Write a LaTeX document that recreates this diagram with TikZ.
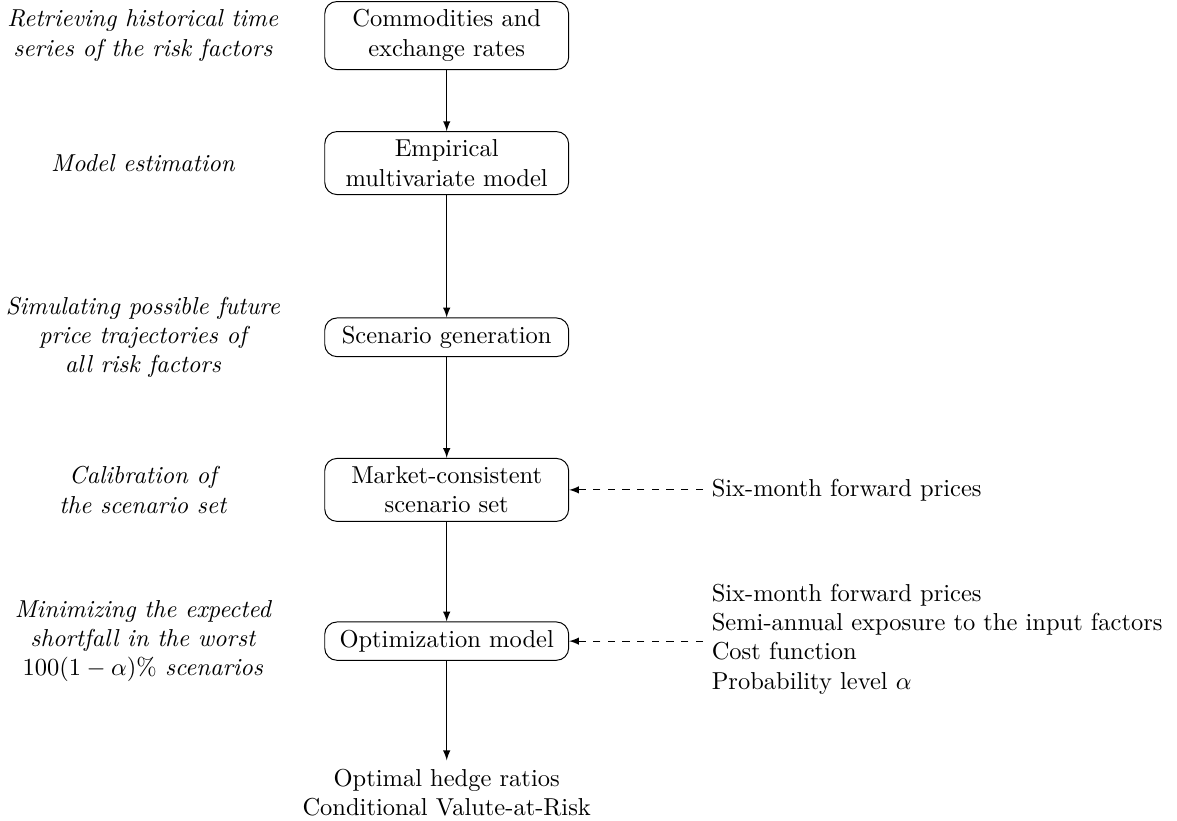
\documentclass[tikz,border=0pt]{standalone}
\usepackage{xcolor}
\usepackage{amsmath}
\usepackage{amssymb}
\tikzset{
  stepBox/.style={rectangle,rounded corners=5pt,draw,minimum width=3.5cm,align=center},
  noteText/.style={align=center,font=\itshape},
  inputText/.style={anchor=west,align=left}
}

\begin{document}
\begin{tikzpicture}
  \useasboundingbox (0,0) rectangle (16.89,-11.77);
  \node[stepBox] (S1) at (6.41,-0.51) {Commodities and\\exchange rates};
  \node[stepBox] (S2) at (6.41,-2.34) {Empirical\\multivariate model};
  \node[stepBox] (S3) at (6.41,-4.84) {Scenario generation};
  \node[stepBox] (S4) at (6.41,-7.03) {Market-consistent\\scenario set};
  \node[stepBox] (S5) at (6.41,-9.20) {Optimization model};
  \node[align=center,anchor=north] (Out) at (6.41,-10.91) {Optimal hedge ratios\\Conditional Valute-at-Risk};
  \foreach \y/\x in {1/2,2/3,3/4,4/5}
      \draw[-latex] (S\y) -- (S\x);
  \draw[-latex] (S5) -- (Out);
  % what is done at each step
  \node[noteText] (N1) at (2.05,-0.51) {Retrieving historical time\\series of the risk factors};
  \node[noteText] (N2) at (2.05,-2.34) {Model estimation};
  \node[noteText] (N3) at (2.05,-4.84) {Simulating possible future\\price trajectories of\\all risk factors};
  \node[noteText] (N4) at (2.05,-7.03) {Calibration of\\the scenario set};
  \node[noteText] (N5) at (2.05,-9.20) {Minimizing the expected\\shortfall in the worst\\\upshape$100(1-\alpha)\%$ \itshape scenarios};
  % inputs
  \node[inputText] (In4) at (10.09,-7.03) {Six-month forward prices};
  \node[inputText] (In5) at (10.09,-9.17) {Six-month forward prices\\Semi-annual exposure to the input factors\\Cost function\\Probability level $\alpha$};
  \draw[-latex,dashed] (In4) -- (S4);
  \draw[-latex,dashed] (In5.west |- S5) -- (S5);
\end{tikzpicture}
\end{document}
